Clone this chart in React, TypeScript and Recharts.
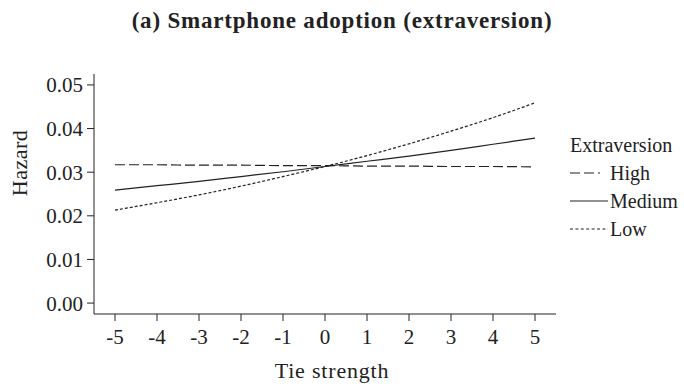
import React from 'react';
import { LineChart, Line, XAxis, YAxis } from 'recharts';

const tieStrength = [-5, -4, -3, -2, -1, 0, 1, 2, 3, 4, 5];
const high = [0.0317, 0.0317, 0.0316, 0.0316, 0.0315, 0.0315, 0.0314, 0.0314, 0.0313, 0.0313, 0.0312];
const medium = [0.0259, 0.0269, 0.0279, 0.029, 0.0301, 0.0313, 0.0325, 0.0337, 0.035, 0.0364, 0.0378];
const low = [0.0213, 0.023, 0.0248, 0.0268, 0.029, 0.0313, 0.0338, 0.0365, 0.0394, 0.0425, 0.0459];
const xTicks = [-5, -4, -3, -2, -1, 0, 1, 2, 3, 4, 5];
const yTicks = [0, 0.01, 0.02, 0.03, 0.04, 0.05];
const legendTitle = 'Extraversion';
const seriesNames = ['High', 'Medium', 'Low'];

const data = tieStrength.map((t, i) => ({ t, high: high[i], medium: medium[i], low: low[i] }));

const FONT = '"Liberation Serif", "Times New Roman", serif';
const INK = '#222';
const keyDashes = ['10 4 10 4 2 20', undefined, '3 2.4'];

export default function App() {
  return (
    <div style={{ position: 'absolute', left: 0, top: 0, width: 684, height: 387, background: '#fff', fontFamily: FONT, color: INK }}>
      <div
        style={{
          position: 'absolute',
          left: 342,
          top: 21,
          fontWeight: 'bold',
          fontSize: 23,
          letterSpacing: 0.8,
          transform: 'translate(-50%, -50%)',
          whiteSpace: 'nowrap',
        }}
      >
        (a) Smartphone adoption (extraversion)
      </div>
      <div
        style={{
          position: 'absolute',
          left: 20,
          top: 163,
          fontSize: 22,
          letterSpacing: 0.5,
          transform: 'translate(-50%, -50%) rotate(-90deg)',
          whiteSpace: 'nowrap',
        }}
      >
        Hazard
      </div>
      <div
        style={{
          position: 'absolute',
          left: 332,
          top: 371,
          fontSize: 22,
          letterSpacing: 0.8,
          transform: 'translate(-50%, -50%)',
          whiteSpace: 'nowrap',
        }}
      >
        Tie strength
      </div>
      <div style={{ position: 'absolute', left: 570, top: 131, fontSize: 20, lineHeight: '28px' }}>
        <div>{legendTitle}</div>
        {seriesNames.map((n, i) => (
          <div key={n} style={{ display: 'flex', alignItems: 'center' }}>
            <svg width={38} height={10} style={{ marginRight: 2 }}>
              <line x1={0} y1={5} x2={38} y2={5} stroke={INK} strokeWidth={1.2} strokeDasharray={keyDashes[i]} />
            </svg>
            <span>{n}</span>
          </div>
        ))}
      </div>
      <LineChart
        width={684}
        height={387}
        data={data}
        margin={{ top: 74, right: 128, bottom: 43, left: 34 }}
        style={{ position: 'absolute', left: 0, top: 0 }}
      >
        <XAxis
          dataKey="t"
          type="number"
          domain={[-5.5, 5.5]}
          ticks={xTicks}
          allowDataOverflow
          height={30}
          stroke={INK}
          tickSize={7}
          tickMargin={8}
          tick={{ fill: INK, fontSize: 21, fontFamily: FONT }}
        />
        <YAxis
          type="number"
          domain={[-0.0025, 0.0525]}
          ticks={yTicks}
          allowDataOverflow
          width={60}
          stroke={INK}
          tickSize={7}
          tickMargin={4}
          tickFormatter={(v: number) => v.toFixed(2)}
          tick={{ fill: INK, fontSize: 21, fontFamily: FONT }}
        />
        <Line dataKey="high" stroke={INK} strokeWidth={1.2} strokeDasharray="10 4" dot={false} isAnimationActive={false} type="monotone" />
        <Line dataKey="medium" stroke={INK} strokeWidth={1.2} dot={false} isAnimationActive={false} type="monotone" />
        <Line dataKey="low" stroke={INK} strokeWidth={1.2} strokeDasharray="3 2" dot={false} isAnimationActive={false} type="monotone" />
      </LineChart>
    </div>
  );
}
